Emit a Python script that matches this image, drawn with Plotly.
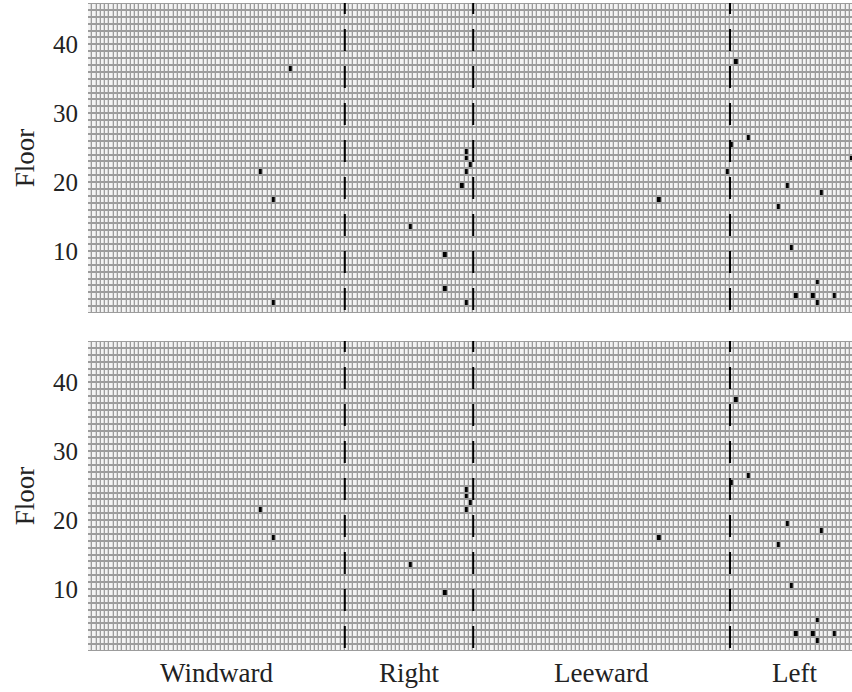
import numpy as np
import plotly.graph_objects as go

# Building faces, in order around the perimeter, and their column counts
faces = ["Windward", "Right", "Leeward", "Left"]
face_widths = [60, 30, 60, 30]
n_floors = 45

# Flagged panels: global column index and floor (lower cell edge)
top_cols = [47, 40, 43, 43, 75, 83, 83, 88, 88, 88, 89, 88, 87, 133,
            151, 154, 150, 149, 163, 171, 161, 178, 164, 170, 165, 169, 174, 170]
top_floors = [36, 21, 17, 2, 13, 9, 4, 2, 24, 23, 22, 21, 19, 17,
              37, 26, 25, 21, 19, 18, 16, 23, 10, 5, 3, 3, 3, 2]

bottom_cols = [40, 43, 75, 83, 88, 88, 89, 88, 133,
               151, 154, 150, 163, 171, 161, 164, 170, 165, 169, 174, 170]
bottom_floors = [21, 17, 13, 9, 24, 23, 22, 21, 17,
                 37, 26, 25, 19, 18, 16, 10, 5, 3, 3, 3, 2]

floor_ticks = [10, 20, 30, 40]

n_cols = sum(face_widths)
boundaries = np.cumsum(face_widths)[:-1]
centers = np.cumsum(face_widths) - np.array(face_widths) / 2

x_centers = np.arange(n_cols) + 0.5
y_centers = np.arange(1, n_floors + 1) + 0.5


def grid(cols, floors):
    z = np.zeros((n_floors, n_cols))
    for c, f in zip(cols, floors):
        z[f - 1, c] = 1
    return z


fig = go.Figure()
scale = [[0, "#f3f3f3"], [0.5, "#f3f3f3"], [0.5, "#000000"], [1, "#000000"]]
for z, xa, ya in [(grid(top_cols, top_floors), "x", "y"),
                  (grid(bottom_cols, bottom_floors), "x2", "y2")]:
    fig.add_trace(go.Heatmap(
        z=z, x=x_centers, y=y_centers, xaxis=xa, yaxis=ya,
        colorscale=scale, zmin=0, zmax=1, showscale=False,
        xgap=1.3, ygap=2, hoverinfo="skip"))

font = dict(family="Liberation Serif, Times New Roman, serif", size=25, color="#222")
label_font = dict(font, size=27)

shapes = []
for xr, yr in [("x", "y"), ("x2", "y2")]:
    for b in boundaries:
        shapes.append(dict(type="line", xref=xr, yref=yr, x0=b, x1=b,
                           y0=1.44, y1=n_floors + 1,
                           line=dict(color="black", width=2, dash="22px,15px")))

annotations = []
for name, cx in zip(faces, centers):
    annotations.append(dict(text=name, x=cx, xref="x2", y=0, yref="paper",
                            yanchor="middle", yshift=-22, showarrow=False, font=label_font))

yaxis_common = dict(range=[1, n_floors + 1], tickvals=floor_ticks, showgrid=False,
                    zeroline=False, ticks="", ticklabelstandoff=9, tickfont=font,
                    title=dict(text="Floor", font=label_font, standoff=10))
xaxis_common = dict(range=[0, 178.5], showticklabels=False, showgrid=False,
                    zeroline=False, ticks="")

fig.update_layout(
    width=852, height=692,
    margin=dict(l=88, r=0, t=3, b=41),
    paper_bgcolor="white", plot_bgcolor="#9c9c9c",
    xaxis=dict(xaxis_common, domain=[0, 1], anchor="y"),
    yaxis=dict(yaxis_common, domain=[0.5216, 1], anchor="x"),
    xaxis2=dict(xaxis_common, domain=[0, 1], anchor="y2"),
    yaxis2=dict(yaxis_common, domain=[0, 0.4784], anchor="x2"),
    shapes=shapes, annotations=annotations, showlegend=False,
)

fig.write_html("out.html")
